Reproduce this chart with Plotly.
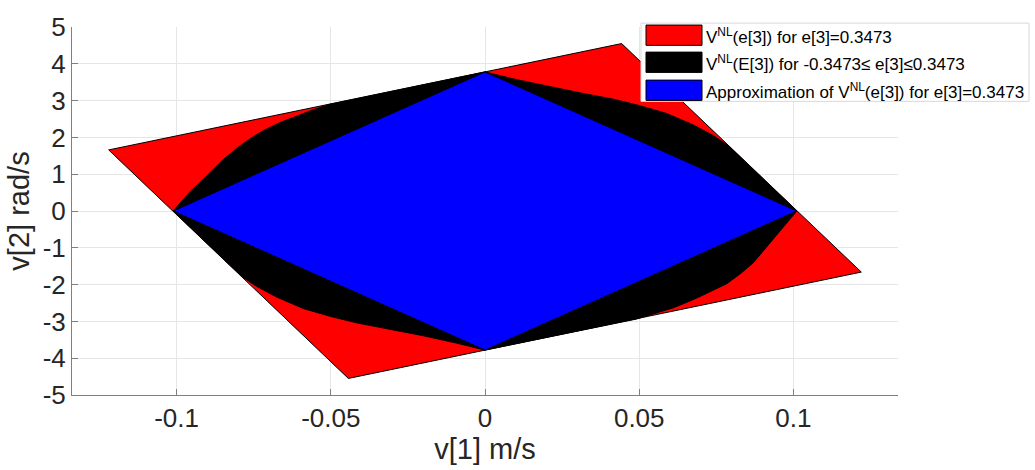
import plotly.graph_objects as go

# ---------------- data ----------------
red_x = [-0.1220, 0.0443, 0.1220, -0.0443]
red_y = [1.66, 4.55, -1.66, -4.55]

blue_x = [-0.1011, 0.0, 0.1011, 0.0]
blue_y = [0.0, 3.78, 0.0, -3.78]

black_x = [-0.1011, -0.0957, -0.0902, -0.0849, -0.0805, -0.0762, -0.0719, -0.0665, -0.0611, -0.0557, -0.0503,
           0.0,
           0.0092, 0.0200, 0.0308, 0.0416, 0.0503, 0.0589, 0.0675, 0.0740, 0.0787,
           0.1011,
           0.0957, 0.0913, 0.0870, 0.0827, 0.0784, 0.0730, 0.0675, 0.0611, 0.0546, 0.0492,
           0.0,
           -0.0092, -0.0200, -0.0308, -0.0416, -0.0503, -0.0589, -0.0675, -0.0740, -0.0787]
black_y = [0.0, 0.520, 0.958, 1.396, 1.701, 1.963, 2.184, 2.402, 2.577, 2.751, 2.900,
           3.78,
           3.59, 3.39, 3.21, 3.04, 2.86, 2.65, 2.34, 2.05, 1.79,
           0.0,
           -0.530, -0.966, -1.404, -1.711, -1.974, -2.192, -2.409, -2.630, -2.803, -2.934,
           -3.78,
           -3.59, -3.39, -3.21, -3.04, -2.86, -2.65, -2.34, -2.05, -1.79]

legend_labels = [
    "V<sup>NL</sup>(e[3]) for e[3]=0.3473",
    "V<sup>NL</sup>(E[3]) for -0.3473\u2264 e[3]\u22640.3473",
    "Approximation of V<sup>NL</sup>(e[3]) for e[3]=0.3473",
]
legend_colors = ["#ff0000", "#000000", "#0000ff"]

x_ticks = [-0.1, -0.05, 0, 0.05, 0.1]
x_ticklabels = ["-0.1", "-0.05", "0", "0.05", "0.1"]
y_ticks = [-5, -4, -3, -2, -1, 0, 1, 2, 3, 4, 5]
y_ticklabels = ["-5", "-4", "-3", "-2", "-1", "0", "1", "2", "3", "4", "5"]

# ---------------- figure ----------------
FONT = "Liberation Sans, Arial, Helvetica, sans-serif"
fig = go.Figure()

def poly(xs, ys, color, name):
    fig.add_trace(go.Scatter(
        x=xs + xs[:1], y=ys + ys[:1], mode="lines", fill="toself",
        fillcolor=color, line=dict(color="#000000", width=1),
        name=name, showlegend=False, hoverinfo="skip"))

poly(red_x, red_y, legend_colors[0], legend_labels[0])
poly(black_x, black_y, legend_colors[1], legend_labels[1])
poly(blue_x, blue_y, legend_colors[2], legend_labels[2])

W, H = 1035, 470
L, R, T, B = 72, 898, 16, 397

def px(xp):
    return (xp - L) / (R - L)

def py(yp):
    return (B - yp) / (B - T)

shapes = []
annotations = []
# legend box
shapes.append(dict(type="rect", xref="paper", yref="paper",
                   x0=px(641), x1=px(1029), y0=py(93), y1=py(12),
                   fillcolor="white", line=dict(color="#d9d9d9", width=1), layer="above"))
row_tops = [14, 42, 71]
for lab, col, top in zip(legend_labels, legend_colors, row_tops):
    shapes.append(dict(type="rect", xref="paper", yref="paper",
                       x0=px(646), x1=px(702), y0=py(top + 21), y1=py(top),
                       fillcolor=col, line=dict(color="#000000", width=1), layer="above"))
    annotations.append(dict(xref="paper", yref="paper", x=px(704), y=py(top + 11),
                            xanchor="left", yanchor="middle", showarrow=False,
                            text=lab, font=dict(family=FONT, size=17, color="#000000")))

fig.update_layout(
    width=W, height=H,
    margin=dict(l=L, r=W - R, t=T, b=H - B),
    paper_bgcolor="white", plot_bgcolor="white",
    shapes=shapes, annotations=annotations,
    showlegend=False,
    font=dict(family=FONT, color="#262626"),
)
fig.update_xaxes(
    range=[-0.1339, 0.1339], tickvals=x_ticks, ticktext=x_ticklabels,
    showgrid=True, gridcolor="#e6e6e6", gridwidth=1, zeroline=False,
    showline=True, linecolor="#808080", linewidth=1,
    ticks="inside", ticklen=6, tickcolor="#808080",
    tickfont=dict(family=FONT, size=26, color="#262626"),
    title=dict(text="v[1] m/s", font=dict(family=FONT, size=29, color="#262626"), standoff=4),
)
fig.update_yaxes(
    range=[-5, 5], tickvals=y_ticks, ticktext=y_ticklabels,
    showgrid=True, gridcolor="#e6e6e6", gridwidth=1, zeroline=False,
    showline=True, linecolor="#808080", linewidth=1,
    ticks="inside", ticklen=6, tickcolor="#808080",
    tickfont=dict(family=FONT, size=26, color="#262626"),
    title=dict(text="v[2] rad/s", font=dict(family=FONT, size=29, color="#262626"), standoff=4),
)

fig.write_html("out.html")
